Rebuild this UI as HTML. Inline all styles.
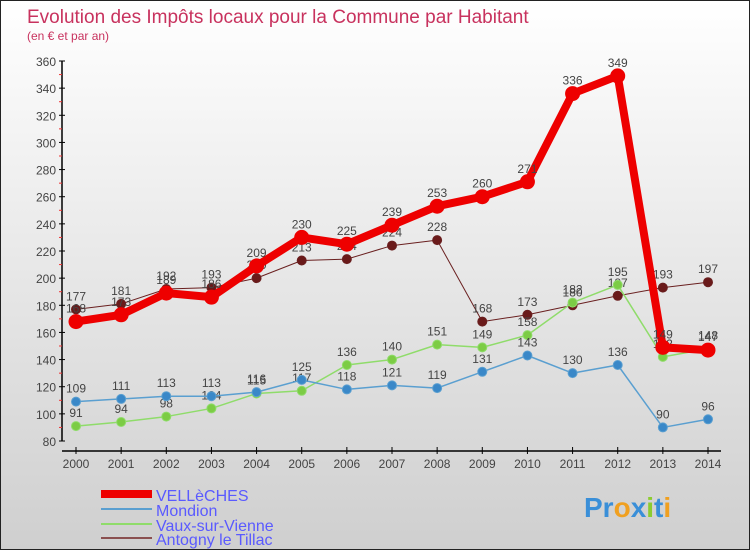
<!DOCTYPE html>
<html><head><meta charset="utf-8"><style>
body{margin:0}
#c{width:748px;height:548px;border:1px solid #222;background:linear-gradient(#fff,#cfcfcf);position:relative;overflow:hidden;font-family:"Liberation Sans",sans-serif}
svg{position:absolute;left:0;top:0}
</style></head><body>
<div id="c">
<svg id="s" width="748" height="548">
<text x="26" y="22" font-size="19" fill="#c8325e">Evolution des Impôts locaux pour la Commune par Habitant</text>
<text x="26" y="39" font-size="12" fill="#c8325e">(en € et par an)</text>
<g id="axes"></g><g id="series"></g>
<g font-size="16" fill="#5a5aff">
<rect x="100" y="489" width="51" height="8" fill="#e00"/>
<text x="155" y="500">VELLèCHES</text>
<rect x="100" y="507" width="51" height="2" fill="#5a9fd0"/>
<text x="155" y="515">Mondion</text>
<rect x="100" y="522" width="51" height="2" fill="#8fdc6a"/>
<text x="155" y="530">Vaux-sur-Vienne</text>
<rect x="100" y="536" width="51" height="2" fill="#8a5050"/>
<text x="155" y="544">Antogny le Tillac</text>
</g>
<text x="583" y="516" font-size="28" font-weight="bold"><tspan fill="#3a8fd8">Pr</tspan><tspan fill="#f0a020">o</tspan><tspan fill="#3a8fd8">x</tspan><tspan fill="#8ccc30">i</tspan><tspan fill="#3a8fd8">t</tspan><tspan fill="#f0a020">i</tspan></text>
</svg></div>
<script>
const years=[2000,2001,2002,2003,2004,2005,2006,2007,2008,2009,2010,2011,2012,2013,2014];
const velleches=[168,173,189,186,209,230,225,239,253,260,271,336,349,149,147];
const mondion=[109,111,113,113,116,125,118,121,119,131,143,130,136,90,96];
const vaux=[91,94,98,104,115,117,136,140,151,149,158,182,195,142,148];
const antogny=[177,181,192,193,200,213,214,224,228,168,173,180,187,193,197];
const yTicks=[80,100,120,140,160,180,200,220,240,260,280,300,320,340,360];
const NS="http://www.w3.org/2000/svg";
const X=i=>75+i*(707-75)/(years.length-1);
const Y=v=>440-(v-80)*380/280;
function mk(t,a,p){const e=document.createElementNS(NS,t);for(const k in a)e.setAttribute(k,a[k]);p.appendChild(e);return e;}
const ax=document.getElementById('axes');
const yl=mk('line',{x1:61,y1:60,x2:61,y2:440,stroke:'#000','stroke-width':1.5},ax);


yTicks.forEach((v,i)=>{
  mk('line',{x1:58,y1:Y(v),x2:64,y2:Y(v),stroke:'#000'},ax);
  if(i<yTicks.length-1)mk('line',{x1:58,y1:Y(v+10),x2:61,y2:Y(v+10),stroke:'#e33'},ax);
  const t=mk('text',{x:55,y:Y(v)+5,'font-size':12,fill:'#444','text-anchor':'end'},ax);
  t.textContent=v;
  
  
});
const xl=mk('line',{x1:61,y1:450,x2:720,y2:450,stroke:'#000','stroke-width':1.5},ax);


years.forEach((yr,i)=>{
  mk('line',{x1:X(i),y1:446,x2:X(i),y2:453,stroke:'#000'},ax);
  const t=mk('text',{x:X(i),y:467,'font-size':12,fill:'#444','text-anchor':'middle'},ax);
  t.textContent=yr;
  
  
});
const sg=document.getElementById('series');
function draw(vals,name,color,dot,w,r){
  const g=mk('g',{},sg);
  
  
  const pts=vals.map((v,i)=>X(i)+','+Y(v)).join(' ');
  mk('polyline',{points:pts,fill:'none',stroke:color,'stroke-width':w,'stroke-linejoin':'round'},g);
  vals.forEach((v,i)=>{
    const c=mk('circle',{cx:X(i),cy:Y(v),r:r,fill:dot,stroke:color,'stroke-width':1},g);
    
    
    const t=mk('text',{x:X(i),y:Y(v)-9,'font-size':12,fill:'#444','text-anchor':'middle'},g);
    t.textContent=v;
    
    
  });
}
draw(antogny,'antogny','#6a2020','#6a1a1a',1,4.5);
draw(vaux,'vaux','#8fdc6a','#7ccc45',1.5,4.5);
draw(mondion,'mondion','#5a9fd0','#3a88c8',1.5,4.5);
draw(velleches,'velleches','#ee0000','#ee0000',8,7);
</script>
</body></html>
